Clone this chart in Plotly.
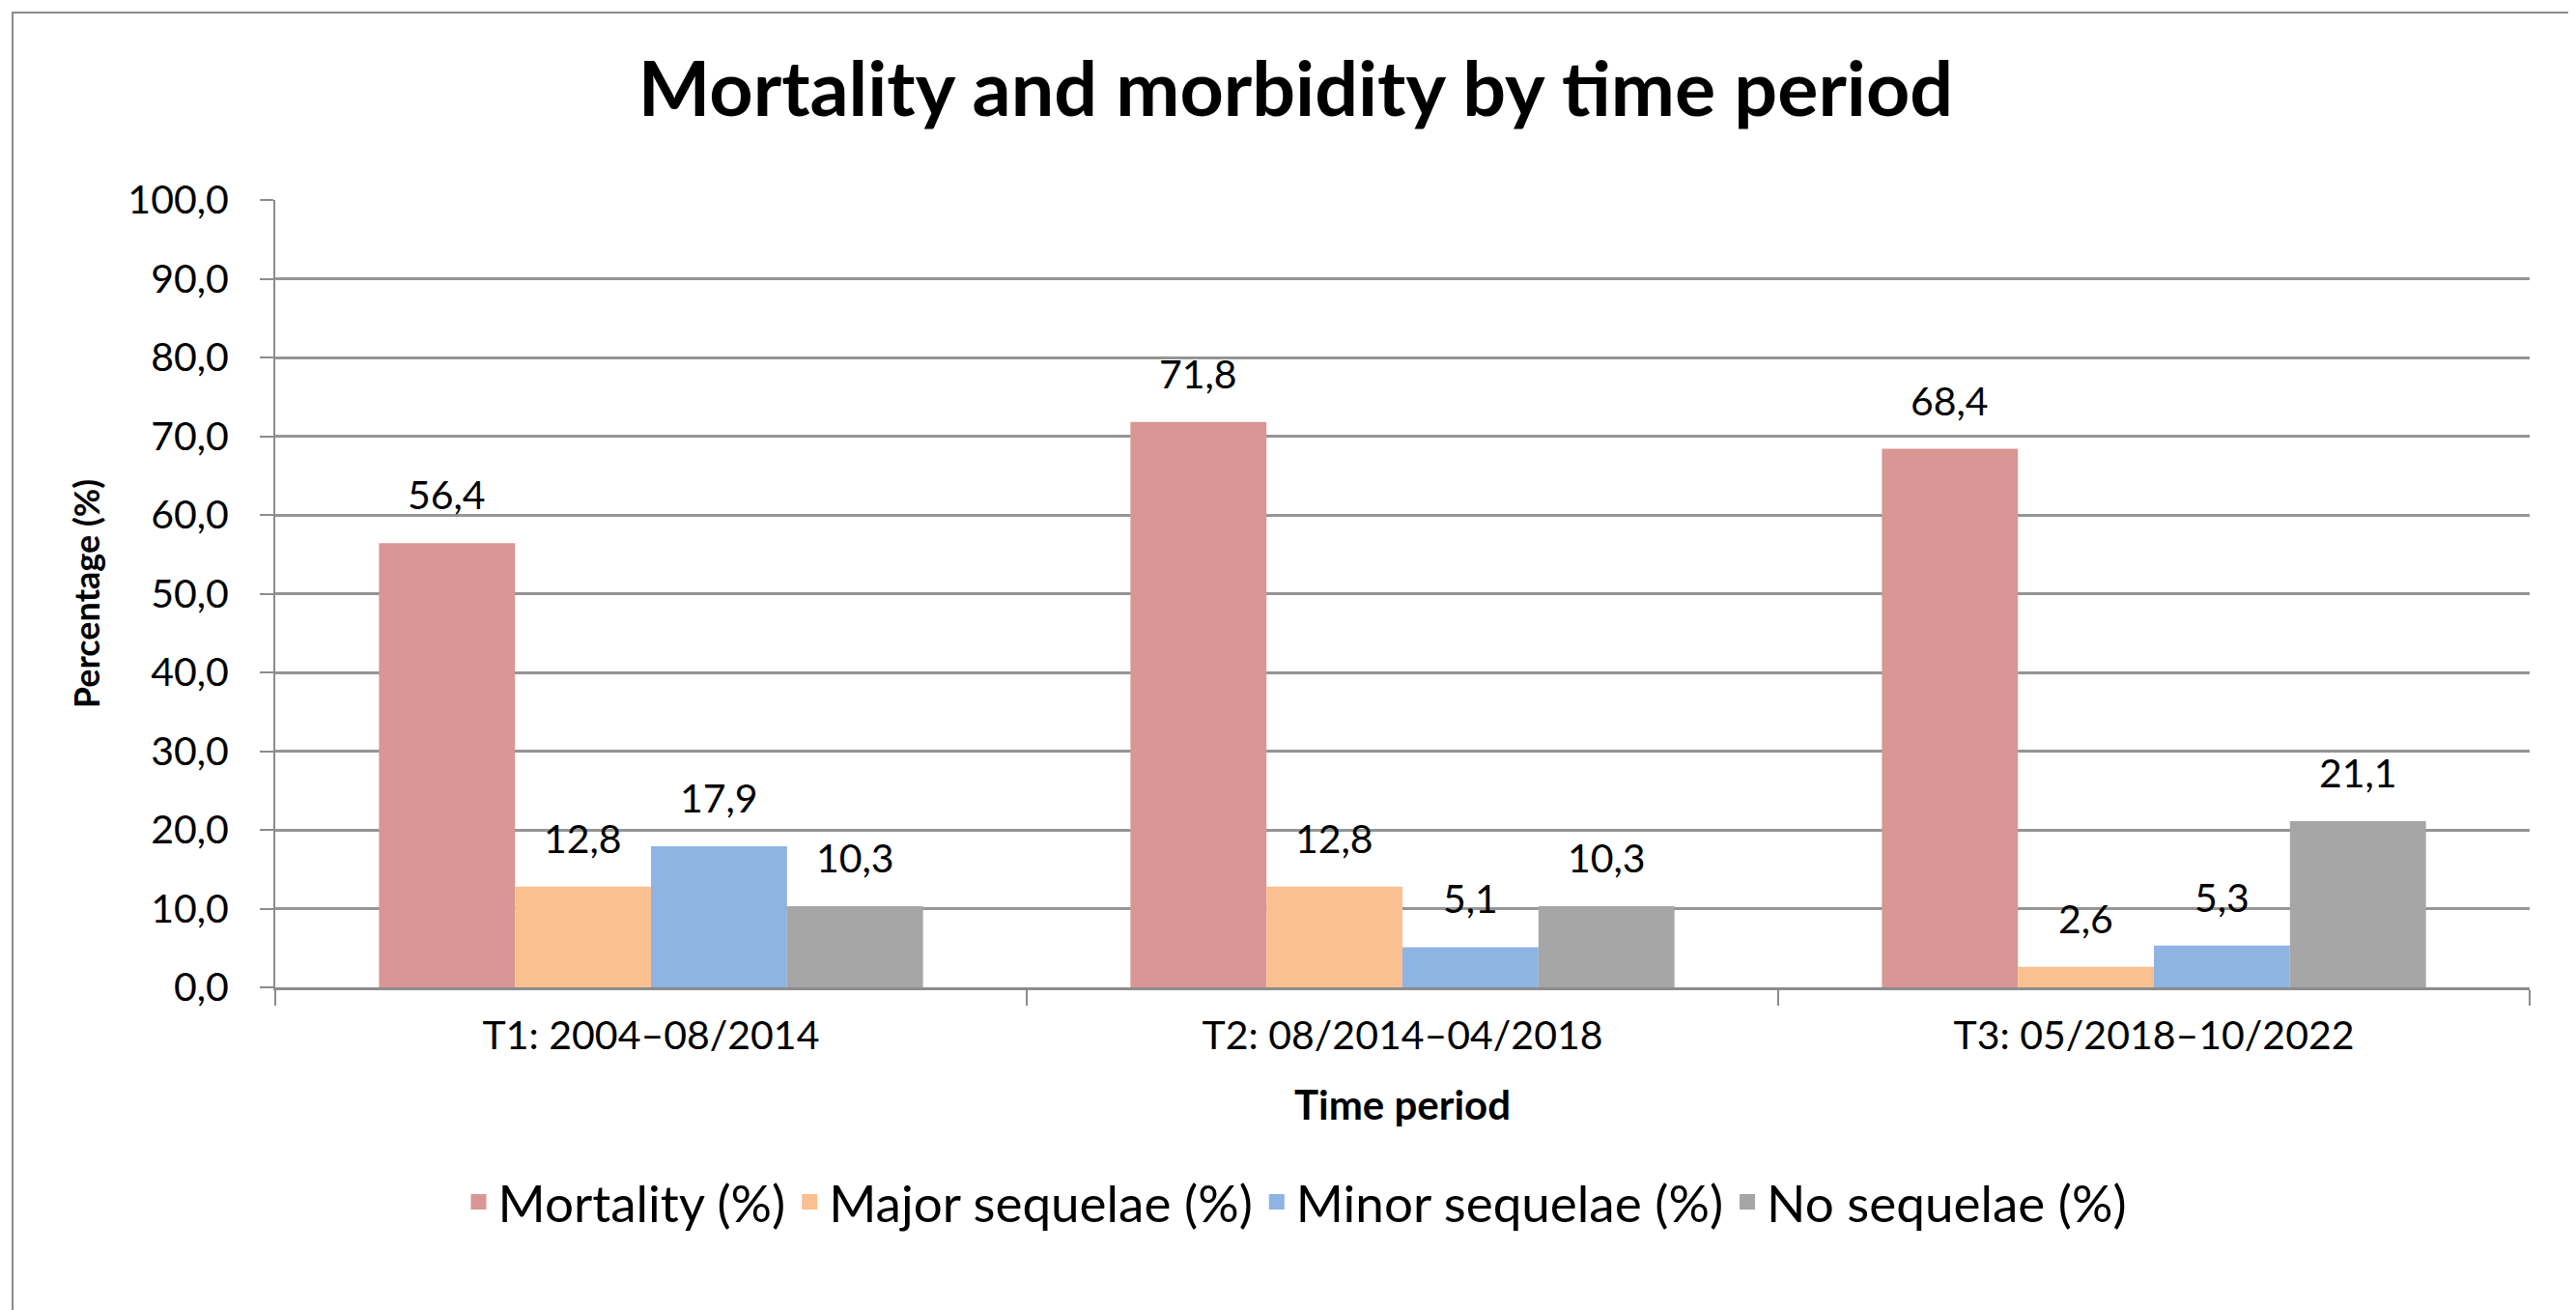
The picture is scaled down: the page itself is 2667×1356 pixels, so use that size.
import plotly.graph_objects as go

categories = ["T1: 2004–08/2014", "T2: 08/2014–04/2018", "T3: 05/2018–10/2022"]
series_names = ["Mortality (%)", "Major sequelae (%)", "Minor sequelae (%)", "No sequelae (%)"]
mortality = [56.4, 71.8, 68.4]
major = [12.8, 12.8, 2.6]
minor = [17.9, 5.1, 5.3]
no_seq = [10.3, 10.3, 21.1]
y_ticks = [0, 10, 20, 30, 40, 50, 60, 70, 80, 90, 100]

colors = ["#D99694", "#FAC090", "#8EB4E3", "#A6A6A6"]
FONT = "Lato"
BARGAP = 0.276

W, H = 2667, 1356
L, R, T, B = 277, 56, 199, 342
pw, ph = W - L - R, H - T - B

all_series = [mortality, major, minor, no_seq]
n = len(all_series)

fig = go.Figure()
annotations = []
slot = (1 - BARGAP) / n
for i, (name, vals, c) in enumerate(zip(series_names, all_series, colors)):
    fig.add_trace(go.Bar(
        x=categories, y=vals, name=name, marker_color=c, marker_line_width=0,
        showlegend=False,
    ))
    # legend entry with a bigger square swatch
    fig.add_trace(go.Scatter(
        x=[None], y=[None], mode="markers", name=name,
        marker=dict(symbol="square", size=30, color=c),
    ))
    off = -(1 - BARGAP) / 2 + (i + 0.5) * slot
    for k, v in enumerate(vals):
        annotations.append(dict(
            x=k + off, y=v, xref="x", yref="y",
            text=f"{v:.1f}".replace(".", ","), showarrow=False,
            yanchor="bottom", xanchor="center", yshift=24,
            font=dict(family=FONT, size=41, color="#000000"),
        ))

def px_x(p):
    return (p - L) / pw

def px_y(p):
    return (H - B - p) / ph

fig.update_layout(
    width=W, height=H,
    margin=dict(l=L, r=R, t=T, b=B, autoexpand=False),
    paper_bgcolor="white", plot_bgcolor="white",
    separators=",.",
    barmode="group", bargap=BARGAP, bargroupgap=0,
    font=dict(family=FONT, color="#000000"),
    title=dict(text="<b>Mortality and morbidity by time period</b>",
               x=0.5, xref="container", xanchor="center",
               y=1 - 84 / H, yanchor="middle",
               font=dict(family=FONT, size=79, color="#000000")),
    legend=dict(orientation="h", x=px_x(W / 2), xanchor="center",
                y=px_y(1236), yanchor="middle",
                font=dict(family=FONT, size=53, color="#000000"),
                itemwidth=30, traceorder="normal", tracegroupgap=0),
    xaxis=dict(
        type="category", tickangle=0,
        showline=True, linecolor="#8C8C8C", linewidth=3,
        ticks="outside", tickson="boundaries", ticklen=16, tickcolor="#8C8C8C", tickwidth=2,
        tickfont=dict(family=FONT, size=41, color="#000000"),
        ticklabelstandoff=12,
        title=dict(text="<b>Time period</b>", font=dict(family=FONT, size=42, color="#000000"), standoff=36),
        showgrid=False,
    ),
    yaxis=dict(
        range=[0, 100], tickvals=y_ticks, tickformat=".1f",
        showline=True, linecolor="#8C8C8C", linewidth=2,
        ticks="outside", ticklen=14, tickcolor="#8C8C8C", tickwidth=2,
        ticklabelstandoff=24,
        showgrid=True, gridcolor="#959595", gridwidth=3,
        tickfont=dict(family=FONT, size=41, color="#000000"),
        title=dict(text="<b>Percentage (%)</b>", font=dict(family=FONT, size=36, color="#000000"), standoff=18),
        zeroline=False,
    ),
    annotations=annotations,
    shapes=[dict(type="rect", xref="paper", yref="paper",
                 x0=px_x(5), x1=px_x(2659), y0=px_y(1351), y1=px_y(5),
                 line=dict(color="#8C8C8C", width=2), fillcolor="rgba(0,0,0,0)", layer="below")],
)

fig.write_html("out.html")
